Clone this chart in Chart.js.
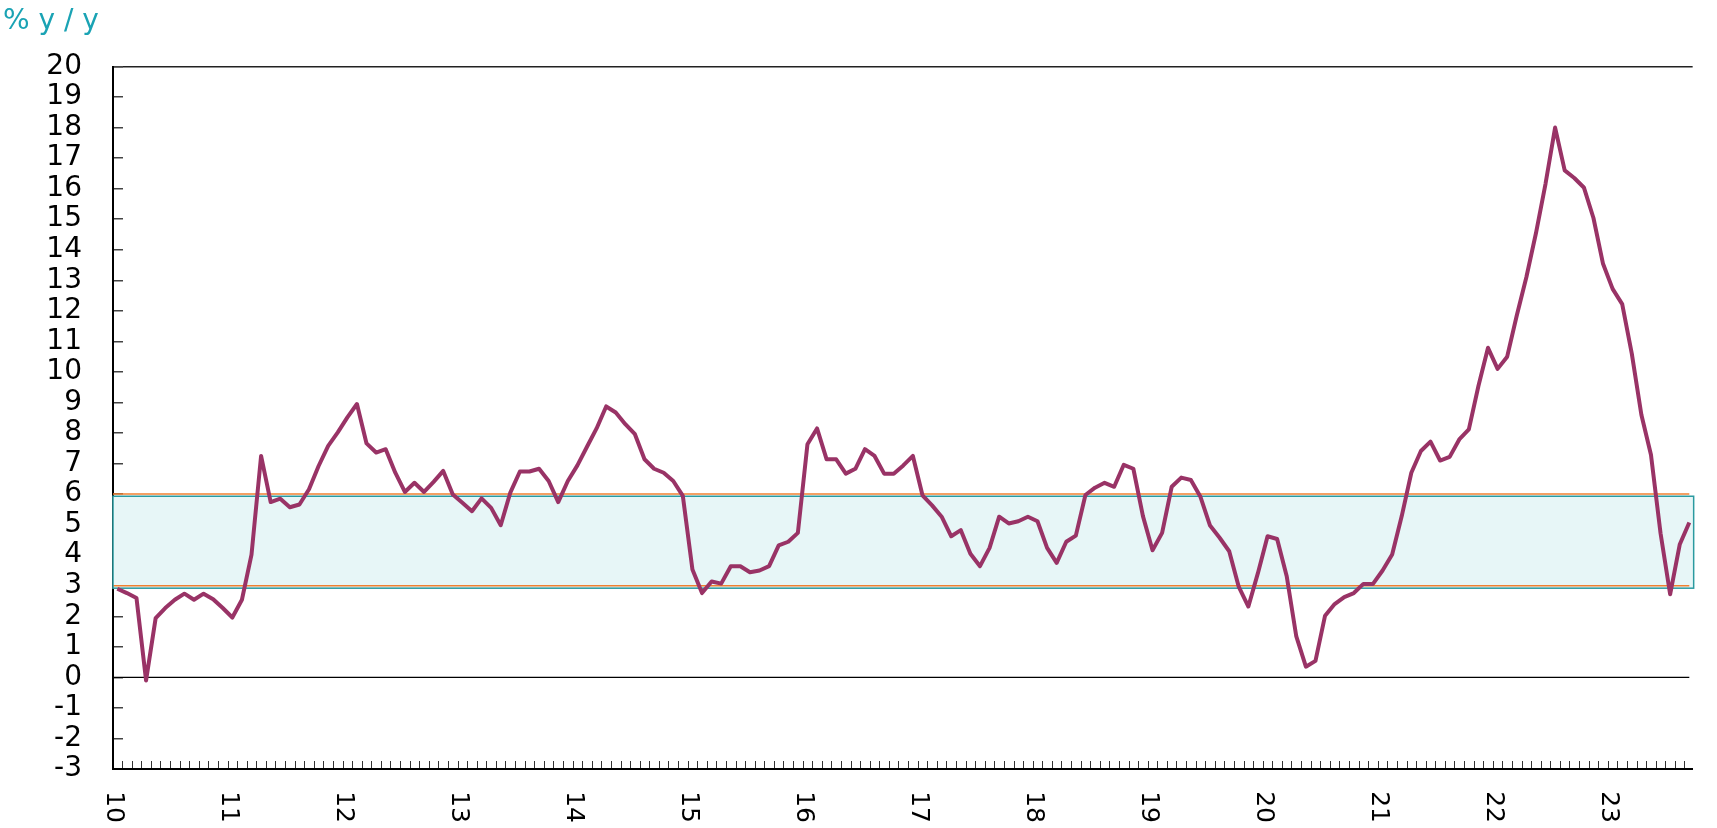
<!DOCTYPE html>
<html>
<head>
<meta charset="utf-8">
<title>% y / y</title>
<script src="https://cdn.jsdelivr.net/npm/chart.js@4/dist/chart.umd.min.js"></script>
<style>
  html, body { margin: 0; padding: 0; background: #fff; }
  #wrap { width: 1717px; height: 828px; position: relative; }
</style>
</head>
<body>
<div id="wrap"><canvas id="chart"></canvas></div>
<script>
// monthly inflation, % y/y, Jan 2010 .. Sep 2023
const y2010 = [2.9, 2.76, 2.6, -0.1, 1.94, 2.27, 2.54, 2.74, 2.54, 2.74, 2.56, 2.27];
const y2011 = [1.96, 2.54, 4.02, 7.25, 5.74, 5.85, 5.57, 5.66, 6.16, 6.92, 7.58, 8.02];
const y2012 = [8.51, 8.95, 7.66, 7.36, 7.47, 6.7, 6.07, 6.37, 6.07, 6.4, 6.76, 5.99];
const y2013 = [5.72, 5.44, 5.86, 5.55, 4.98, 6.05, 6.74, 6.74, 6.83, 6.43, 5.74, 6.43];
const y2014 = [6.94, 7.55, 8.15, 8.87, 8.67, 8.29, 7.96, 7.14, 6.83, 6.7, 6.43, 5.94];
const y2015 = [3.53, 2.76, 3.14, 3.07, 3.64, 3.64, 3.44, 3.5, 3.64, 4.32, 4.44, 4.73];
const y2016 = [7.63, 8.15, 7.14, 7.14, 6.67, 6.83, 7.47, 7.25, 6.67, 6.67, 6.94, 7.25];
const y2017 = [5.96, 5.63, 5.26, 4.62, 4.82, 4.05, 3.64, 4.24, 5.26, 5.04, 5.11, 5.26];
const y2018 = [5.11, 4.24, 3.75, 4.44, 4.64, 5.97, 6.21, 6.37, 6.24, 6.96, 6.83, 5.28];
const y2019 = [4.16, 4.73, 6.24, 6.54, 6.46, 5.91, 4.97, 4.57, 4.13, 2.96, 2.32, 3.42];
const y2020 = [4.62, 4.53, 3.31, 1.34, 0.35, 0.54, 2.02, 2.4, 2.63, 2.76, 3.06, 3.06];
const y2021 = [3.5, 4.02, 5.28, 6.7, 7.41, 7.72, 7.1, 7.22, 7.79, 8.12, 9.54, 10.79];
const y2022 = [10.1, 10.5, 11.85, 13.1, 14.54, 16.16, 18.0, 16.6, 16.35, 16.04, 15.04, 13.54];
const y2023 = [12.72, 12.22, 10.6, 8.6, 7.29, 4.72, 2.72, 4.35, 5.07];

const yearLabels = ['10', '11', '12', '13', '14', '15', '16', '17', '18', '19', '20', '21', '22', '23'];

// target range
const bandLow = 2.92;
const bandHigh = 5.93;
const targetLines = [3, 6];
const zeroLine = 0;

const values = [].concat(y2010, y2011, y2012, y2013, y2014, y2015, y2016,
                         y2017, y2018, y2019, y2020, y2021, y2022, y2023);
const points = values.map((v, i) => ({ x: i, y: v }));

const xMin = -0.45;
const xMax = 164.35;
// month boundaries, one tick per month
const monthTicks = values.map((v, i) => xMin + i);

const bandPlugin = {
  id: 'band',
  beforeDatasetsDraw(chart) {
    const { ctx, chartArea, scales } = chart;
    const x = scales.x, y = scales.y;
    const lastX = x.getPixelForValue(values.length - 1);
    const top = y.getPixelForValue(bandHigh);
    const bottom = y.getPixelForValue(bandLow);
    ctx.save();
    ctx.fillStyle = '#e7f6f7';
    ctx.fillRect(chartArea.left, top, chartArea.right - chartArea.left + 1, bottom - top);

    ctx.strokeStyle = '#f08030';
    ctx.lineWidth = 1.5;
    targetLines.forEach(v => {
      const py = y.getPixelForValue(v);
      ctx.beginPath();
      ctx.moveTo(chartArea.left, py);
      ctx.lineTo(lastX, py);
      ctx.stroke();
    });

    ctx.strokeStyle = '#2b9aa0';
    ctx.lineWidth = 1.5;
    ctx.strokeRect(chartArea.left, top, chartArea.right - chartArea.left + 1, bottom - top);

    const pz = y.getPixelForValue(zeroLine);
    ctx.strokeStyle = '#000';
    ctx.lineWidth = 1.2;
    ctx.beginPath();
    ctx.moveTo(chartArea.left, pz);
    ctx.lineTo(lastX, pz);
    ctx.stroke();
    ctx.restore();
  }
};

new Chart(document.getElementById('chart'), {
  type: 'line',
  data: {
    datasets: [{
      data: points,
      borderColor: '#993366',
      borderWidth: 4,
      borderJoinStyle: 'round',
      pointRadius: 0,
      tension: 0,
      fill: false
    }]
  },
  options: {
    responsive: true,
    maintainAspectRatio: false,
    animation: false,
    layout: { padding: { left: 3, right: 2, top: 0, bottom: 0 } },
    plugins: {
      legend: { display: false },
      tooltip: { enabled: false },
      title: {
        display: true,
        text: '% y / y',
        align: 'start',
        color: '#1aa3b4',
        font: { family: 'DejaVu Sans', size: 28, weight: 'normal', lineHeight: 1.2 },
        padding: { top: 5, bottom: 27.9 }
      }
    },
    scales: {
      x: {
        type: 'linear',
        min: xMin,
        max: xMax,
        afterBuildTicks: axis => { axis.ticks = monthTicks.map(v => ({ value: v })); },
        afterFit: axis => { axis.height = 59; },
        grid: {
          display: true,
          drawOnChartArea: false,
          drawTicks: true,
          tickLength: -8,
          tickColor: '#333',
          tickWidth: 1
        },
        border: { display: true, color: '#000', width: 2 },
        ticks: {
          autoSkip: false,
          minRotation: -90,
          maxRotation: -90,
          padding: 62,
          color: '#000',
          font: { family: 'DejaVu Sans', size: 25 },
          callback: (value, index) => (index % 12 === 0 ? yearLabels[index / 12] : '')
        }
      },
      y: {
        min: -3,
        max: 20,
        afterFit: axis => { axis.width = 110; },
        grid: {
          display: true,
          drawOnChartArea: true,
          color: ctx => (ctx.tick && ctx.tick.value === 20 ? '#222' : 'rgba(0,0,0,0)'),
          lineWidth: 1.5,
          drawTicks: true,
          tickLength: -10,
          tickColor: '#444',
          tickWidth: 1.5
        },
        border: { display: true, color: '#000', width: 2 },
        ticks: {
          stepSize: 1,
          autoSkip: false,
          padding: 41,
          color: '#000',
          font: { family: 'DejaVu Sans', size: 28 }
        }
      }
    }
  },
  plugins: [bandPlugin]
});
</script>
</body>
</html>
